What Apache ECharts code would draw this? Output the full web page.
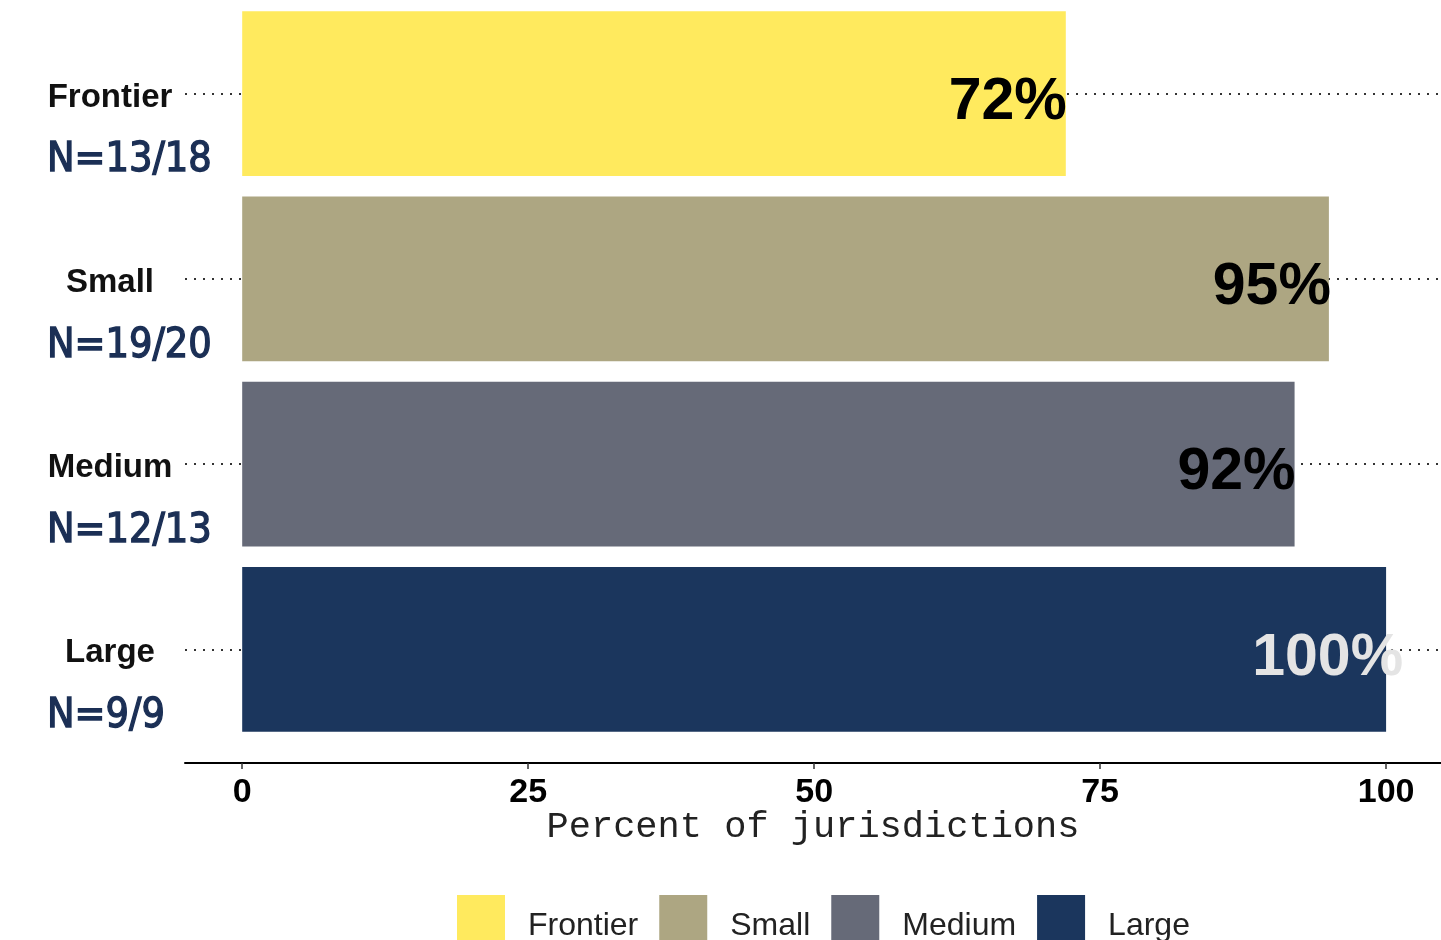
<!DOCTYPE html>
<html>
<head>
<meta charset="utf-8">
<script src="https://cdn.jsdelivr.net/npm/echarts@6/dist/echarts.min.js"></script>
<style>
html,body{margin:0;padding:0;background:#fff;}
#chart{width:1441px;height:940px;}
</style>
</head>
<body>
<div id="chart"></div>
<script>
// ---- data ----
var categories = ['Frontier', 'Small', 'Medium', 'Large'];
var counts = ['N=13/18', 'N=19/20', 'N=12/13', 'N=9/9'];
var values = [72, 95, 92, 100];
var xTicks = [0, 25, 50, 75, 100];
var axisTitle = 'Percent of jurisdictions';

// ---- styling ----
var colors = ['#FFEA5E', '#ADA682', '#666A78', '#1B365D'];
var labelColors = ['#000', '#000', '#000', '#E4E4E4'];
var labelOffsets = [[1, 9], [2, 9], [1, 9], [17, 9]];

var series = categories.map(function (name, i) {
  var s = {
    name: name,
    type: 'bar',
    stack: 'all',
    z: 2,
    barCategoryGap: '11%',
    itemStyle: { color: colors[i] },
    data: categories.map(function (c, j) { return j === i ? values[j] : '-'; }),
    label: {
      show: true,
      position: 'insideRight',
      distance: 0,
      offset: labelOffsets[i],
      formatter: '{c}%',
      fontFamily: 'Liberation Sans, Arial, sans-serif',
      fontWeight: 'bold',
      fontSize: 59,
      color: labelColors[i]
    }
  };
  if (i === 0) {
    s.markLine = {
      z: 1,
      silent: true,
      symbol: 'none',
      label: { show: false },
      lineStyle: { type: [2, 7], color: '#333', width: 2, opacity: 1 },
      data: categories.map(function (c) { return { yAxis: c }; })
    };
  }
  return s;
});

var chart = echarts.init(document.getElementById('chart'), null, { renderer: 'canvas' });
chart.setOption({
  backgroundColor: '#fff',
  animation: false,
  grid: { left: 185, right: 0, top: 1, bottom: 198, containLabel: false },
  legend: {
    data: categories,
    left: 452,
    top: 890,
    icon: 'rect',
    itemWidth: 48,
    itemHeight: 48,
    itemGap: 21,
    selectedMode: false,
    formatter: function (n) { return '{t|' + n + '}'; },
    textStyle: {
      fontFamily: 'Liberation Sans, Arial, sans-serif',
      fontSize: 32,
      color: '#222',
      rich: {
        t: {
          fontFamily: 'Liberation Sans, Arial, sans-serif',
          fontSize: 32,
          color: '#222',
          padding: [14, 0, 0, 18]
        }
      }
    }
  },
  xAxis: {
    type: 'value',
    min: -5,
    max: 104.8,
    offset: 21,
    name: axisTitle,
    nameLocation: 'middle',
    nameGap: 46,
    nameMoveOverlap: false,
    nameTextStyle: {
      fontFamily: 'Liberation Mono, Courier New, monospace',
      fontSize: 37,
      color: '#222'
    },
    axisLine: { show: true, lineStyle: { color: '#000', width: 2 } },
    axisTick: { show: true, customValues: xTicks, length: 6, lineStyle: { color: '#333', width: 1.5 } },
    axisLabel: {
      customValues: xTicks,
      margin: 13,
      fontFamily: 'Liberation Sans Narrow, Arial Narrow, Liberation Sans, sans-serif',
      fontWeight: 'bold',
      fontSize: 34,
      color: '#000'
    },
    splitLine: { show: false }
  },
  yAxis: {
    type: 'category',
    inverse: true,
    data: categories,
    axisLine: { show: false },
    axisTick: { show: false },
    splitLine: { show: false },
    axisLabel: {
      interval: 0,
      align: 'left',
      verticalAlign: 'top',
      margin: 138,
      width: 126,
      overflow: 'none',
      formatter: function (v, idx) {
        return '{a|' + v + '}\n{b|' + counts[idx] + '}';
      },
      rich: {
        a: {
          fontFamily: 'Liberation Sans, Arial, sans-serif',
          fontWeight: 'bold',
          fontSize: 33,
          color: '#111',
          align: 'center',
          lineHeight: 8
        },
        b: {
          fontFamily: 'DejaVu Sans Condensed, sans-serif',
          fontSize: 41,
          color: '#1B2F55',
          textBorderColor: '#1B2F55',
          textBorderWidth: 1.3,
          align: 'left',
          lineHeight: 118
        }
      }
    }
  },
  series: series
});
</script>
</body>
</html>
